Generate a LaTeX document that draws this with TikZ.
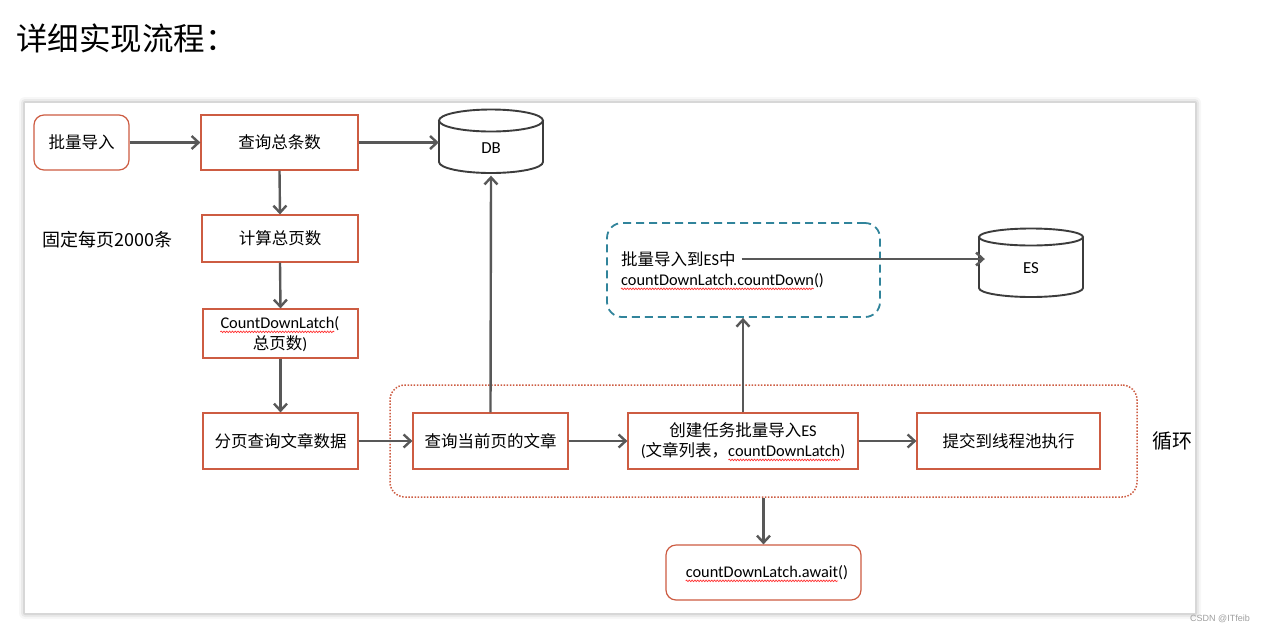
\documentclass[tikz,border=0pt]{standalone}
\usepackage{fontspec}
\setmainfont{Noto Sans CJK SC}
\newfontfamily\lat{Carlito}[Scale=0.99]
\newfontfamily\arial{Liberation Sans}
\usetikzlibrary{arrows.meta,decorations.pathmorphing}
\definecolor{boxred}{RGB}{205,92,66}
\definecolor{arrowgray}{RGB}{88,88,88}
\definecolor{tealdash}{RGB}{49,132,155}
\definecolor{cylgray}{RGB}{60,60,60}
\newlength\wA \newlength\wB \newlength\wC \newlength\wD \newlength\wP
\AtBeginDocument{%
\settowidth\wA{\fontsize{16.5}{20}\selectfont\lat CountDownLatch}%
\settowidth\wB{\fontsize{16.5}{20}\selectfont\lat countDownLatch}%
\settowidth\wC{\fontsize{16.5}{20}\selectfont\lat countDownLatch.await}%
\settowidth\wD{\fontsize{16.5}{20}\selectfont\lat countDownLatch.countDown}%
\settowidth\wP{\fontsize{16.5}{20}\selectfont\lat )}}
\begin{document}
\begin{tikzpicture}[x=1pt,y=-1pt,
  box/.style={draw=boxred,line width=1.2pt,inner sep=0pt,fill=white},
  txt/.style={inner sep=0pt,font=\fontsize{16.5}{20}\selectfont},
  conn/.style={draw=arrowgray,line width=2.4pt,-{Straight Barb[length=7pt,width=13pt]}},
  cyl/.style={draw=cylgray,line width=1.9pt,fill=white},
  squig/.style={draw=red!80,line width=0.7pt,decorate,decoration={snake,amplitude=0.8pt,segment length=2.8pt}},
  plain/.style={inner sep=0pt}
]
\useasboundingbox (0,0) rectangle (1264,633);
\fill[white] (0,0) rectangle (1264,633);
% panel with shadow
\foreach \i/\o in {6/0.03,4/0.05,2/0.08}{
  \fill[black,opacity=\o,rounded corners=\i] (25-\i,103-\i) rectangle (1195+\i,613+\i);}
\fill[white] (25,103) rectangle (1195,613);

% title
\node[plain,anchor=west,font=\fontsize{31.5}{36}\selectfont] (title) at (16,38) {详细实现流程：};

% left column
\node[box,rounded corners=10pt,minimum width=95pt,minimum height=55pt] (imp) at (81.5,142.5) {};
\node[txt] (impt) at (imp.center) {批量导入};
\node[box,minimum width=157pt,minimum height=55pt] (cnt) at (279.5,142.5) {};
\node[txt] (cntt) at (cnt.center) {查询总条数};
\node[box,minimum width=156pt,minimum height=47pt] (pages) at (280,238.5) {};
\node[txt] (pagest) at (pages.center) {计算总页数};
\node[plain,anchor=west,font=\fontsize{18}{22}\selectfont] (fixed) at (42,240) {固定每页2000条};
\node[box,minimum width=155pt,minimum height=49pt] (cdl) at (280.5,333.5) {};
\node[txt] (cdl1) at (280,324) {\lat CountDownLatch(};
\node[txt] (cdl2) at (280,344) {总页数\lat )};
\node[box,minimum width=155pt,minimum height=56pt] (page) at (280.5,441) {};
\node[txt] (paget) at (page.center) {分页查询文章数据};

% loop box
\node[draw=boxred,line width=1.5pt,dash pattern=on 1.5pt off 1.6pt,rounded corners=15pt,minimum width=747pt,minimum height=112pt,inner sep=0pt] (loop) at (763.5,441) {};
\node[plain,font=\fontsize{20}{24}\selectfont] (looplbl) at (1172,441) {循环};

\node[box,minimum width=155pt,minimum height=56pt] (cur) at (490.5,441) {};
\node[txt] (curt) at (cur.center) {查询当前页的文章};
\node[box,minimum width=230pt,minimum height=56pt] (task) at (743,441) {};
\node[txt] (task1) at (743,430) {创建任务批量导入\lat ES};
\node[txt] (task2) at (743,451) {{\lat (}文章列表，\lat countDownLatch)};
\node[box,minimum width=183pt,minimum height=56pt] (submit) at (1008.5,441) {};
\node[txt] (submitt) at (submit.center) {提交到线程池执行};

% await
\node[box,rounded corners=10pt,minimum width=195pt,minimum height=55pt] (await) at (763.5,572.5) {};
\node[txt] (awaitt) at (767,573) {\lat countDownLatch.await()};

% dashed ES box
\node[draw=tealdash,line width=1.8pt,dash pattern=on 8pt off 5pt,rounded corners=15pt,minimum width=273pt,minimum height=94pt,inner sep=0pt] (dash) at (743.5,270) {};
\node[txt,anchor=west] (esl) at (621,259) {批量导入到{\lat ES}中};
\node[txt,anchor=west] (cdd) at (621,281) {\lat countDownLatch.countDown()};

% spell-check squiggles
\draw[squig] ([yshift=-3pt]cdl1.base west) -- ++(\wA,0);
\draw[squig] ([xshift=-\wP-\wB,yshift=-3pt]task2.base east) -- ++(\wB,0);
\draw[squig] ([yshift=-3pt]awaitt.base west) -- ++(\wC,0);
\draw[squig] ([yshift=-3pt]cdd.base west) -- ++(\wD,0);

% DB cylinder
\draw[cyl] (439,120.5) -- (439,162) arc[start angle=180,end angle=0,x radius=52,y radius=11] -- (543,120.5);
\draw[cyl] (491,120.5) ellipse[x radius=52,y radius=11];
\node[plain,minimum width=104pt,minimum height=64pt] (db) at (491,141.5) {};
\node[plain,font=\fontsize{17}{18}\selectfont] (dbl) at (491,148) {\lat DB};

% ES cylinder
\draw[cyl] (979,237) -- (979,288) arc[start angle=180,end angle=0,x radius=52,y radius=9] -- (1083,237);
\draw[cyl] (1031,237) ellipse[x radius=52,y radius=8.5];
\node[plain,minimum width=104pt,minimum height=69pt] (es) at (1031,262.5) {};
\node[plain,font=\fontsize{17}{18}\selectfont] (esl2) at (1031,268) {\lat ES};

% connectors
\draw[conn] (imp.east) -- (cnt.west);
\draw[conn] (cnt.east) -- (cnt.east -| db.west);
\draw[conn] (cnt.south) -- (pages.north);
\draw[conn] (pages.south) -- (cdl.north);
\draw[conn] (cdl.south) -- (page.north);
\draw[conn] (page.east) -- (cur.west);
\draw[conn] (cur.north) -- ([yshift=-2pt]db.south);
\draw[conn] (cur.east) -- (task.west);
\draw[conn] (task.east) -- (submit.west);
\draw[conn] (task.north) -- (task.north |- dash.south);
\draw[conn] (loop.south) -- (await.north);
\draw[conn] ([xshift=6pt]esl.east) -- ([xshift=6pt]esl.east -| es.west);

% watermark
\node[plain,anchor=east,text=gray!75,font=\arial\fontsize{9}{10}\selectfont] (wm) at (1250,619) {CSDN @ITfeib};
\end{tikzpicture}
\end{document}
